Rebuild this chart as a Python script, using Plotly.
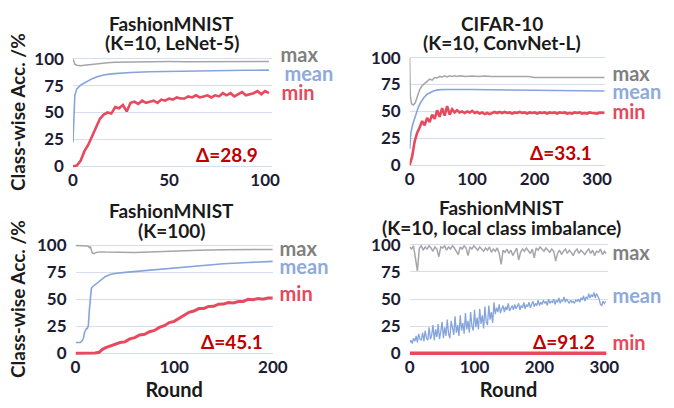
import plotly.graph_objects as go

# ---------------- Panel 1: FashionMNIST (K=10, LeNet-5) ----------------
p1_max_x = [0, 0.5, 1, 2, 4, 6, 8, 10, 14, 18, 22, 30, 40, 50, 60, 70, 80, 90, 102]
p1_max_y = [100, 97, 95, 94, 93.5, 94, 94.5, 95, 95.8, 96.3, 96.7, 97, 97.2, 97.4, 97.3, 97.5, 97.4, 97.5, 97.5]
p1_mean_x = [0, 0.5, 1, 2, 3, 4, 6, 8, 10, 13, 16, 20, 25, 30, 40, 50, 60, 70, 80, 90, 102]
p1_mean_y = [22, 50, 66, 72, 74, 75.5, 77.5, 79.5, 81.5, 83.5, 85, 86, 86.7, 87.2, 88, 88.4, 88.7, 89, 89.1, 89.3, 89.5]
p1_min_x = list(range(0, 103, 2))
p1_min_y = [0, 0.5, 5, 14, 20, 28, 37, 44, 48, 50, 49, 55, 54, 57, 51, 59, 60, 58, 61, 59,
            60, 61, 59, 62, 61, 63, 62, 64, 63, 63, 65, 64, 66, 64, 65, 66, 64, 66, 65, 68,
            66, 68, 65, 67, 69, 66, 67, 68, 70, 67, 70, 68]

# ---------------- Panel 2: CIFAR-10 (K=10, ConvNet-L) ----------------
p2_max_x = [0, 1, 3, 6, 9, 12, 16, 20, 24, 28, 32, 36, 40, 44, 48, 52, 56, 60, 64, 68, 72, 76, 80,
            90, 100, 110, 120, 130, 140, 150, 160, 170, 180, 190, 200, 210, 220, 230, 240, 260, 280, 300, 312]
p2_max_y = [100, 65, 57, 56, 58, 64, 70, 74, 76, 78, 80, 79, 81.5, 81, 82.5, 82, 83, 82, 83, 82.5, 83, 82.5, 83,
            82.5, 83, 82.5, 83, 82.5, 82.5, 82, 82.5, 82, 82, 82.5, 81.5, 81.5, 81.5, 82, 81.5, 81.5, 81.5, 81.5, 81.5]
p2_mean_x = [0, 2, 5, 10, 14, 18, 23, 28, 33, 38, 45, 55, 100, 150, 200, 250, 312]
p2_mean_y = [15, 30, 38, 48, 54, 58.5, 63, 66, 67.8, 69, 70, 70.3, 70.3, 70, 69.5, 69.2, 69]
p2_min_x = list(range(0, 313, 4))
p2_min_y = [0, 8, 22, 30, 35, 41, 37, 44, 40, 47, 43, 51, 45, 53, 46, 55, 47, 52, 49, 51,
            49, 50, 48.5, 50, 49, 50.5, 48.5, 49.5, 48, 49, 47.5, 48.5, 47.5, 48.5, 49.5, 48.5, 49.5, 48.5, 49.5, 48.5,
            49, 48, 49, 48.5, 49.5, 48.5, 49, 48, 49, 48.5, 49, 48, 49, 48.5, 49, 48, 49, 48.5, 49, 48,
            49, 48.5, 49, 48, 48.5, 48, 49, 48.5, 49, 48, 48.5, 48, 49, 48.5, 48.5, 48, 49, 48.5, 48.5]

# ---------------- Panel 3: FashionMNIST (K=100) ----------------
p3_max_x = [0, 10, 12, 13, 14, 15, 16, 17, 18, 19, 21, 25, 30, 40, 50, 60, 75, 100, 125, 150, 175, 200]
p3_max_y = [100, 100, 99.5, 99, 98, 99, 96, 93, 92.5, 92.5, 93.5, 94, 93.8, 93.5, 93.2, 93.5, 94, 95, 95.5, 96, 96.4, 96.3]
p3_mean_x = [0, 5, 7, 8, 9, 10, 11, 12, 13, 14, 15, 16, 17, 19, 22, 26, 30, 35, 40, 50, 60, 75, 100, 125, 150, 175, 200]
p3_mean_y = [10, 10, 12, 14, 19, 22, 23, 23, 26, 40, 55, 60, 61.5, 63, 65, 68.5, 71, 73, 74, 75, 75.8, 77.2, 79.5, 81.5, 83, 84.2, 85.2]
p3_min_x = [0, 5, 10, 15, 20, 24, 27, 30, 35, 40, 45, 50, 55, 60, 65, 70, 75, 80, 85, 90, 95, 100,
            105, 110, 115, 120, 125, 130, 135, 140, 145, 150, 155, 160, 165, 170, 175, 180, 185, 190, 195, 200]
p3_min_y = [0, 0, 0, 0, 0.3, 1, 3.5, 5, 6.5, 7.8, 10, 10.6, 13.4, 14.6, 17, 17.6, 20, 21.2, 24, 25.6, 28.5, 29.6,
            32.5, 34.6, 38, 39.2, 41.5, 41.6, 43.5, 43.6, 45.5, 45.6, 47, 46.6, 48, 48.1, 50, 49.6, 50.8, 50.2, 51.3, 51.2]

# ---------------- Panel 4: FashionMNIST (K=10, local class imbalance) ----------------
p4_max_x = list(range(0, 304, 3))
p4_max_y = [98, 96, 99, 88, 76, 97, 99, 95, 98, 96, 99, 97, 94, 98, 96, 89, 98, 97, 99, 95,
            98, 96, 99, 97, 94, 91, 98, 96, 99, 97, 90, 98, 96, 99, 97, 95, 98, 96, 94, 97,
            95, 98, 93, 96, 94, 97, 92, 82, 95, 93, 96, 92, 95, 90, 94, 97, 86, 93, 96, 94,
            97, 95, 92, 96, 88, 97, 95, 98, 96, 94, 97, 95, 93, 96, 94, 85, 92, 95, 91, 94,
            96, 92, 95, 93, 90, 94, 96, 92, 95, 93, 91, 94, 96, 92, 95, 90, 94, 93, 96, 91,
            94, 92]
p4_mean_x = list(range(0, 303, 2))
p4_mean_y = [10, 12, 9, 14, 11, 16, 10, 18, 13, 12, 19,
             11, 21, 14, 12, 24, 13, 17, 26, 12, 22,
             15, 27, 13, 20, 29, 14, 24, 16, 31, 18,
             14, 30, 22, 17, 34, 19, 26, 16, 35, 21,
             28, 18, 37, 22, 30, 19, 38, 25, 21, 40,
             24, 33, 22, 41, 27, 35, 23, 43, 29, 26,
             44, 31, 38, 28, 47, 36, 42, 38, 45, 37,
             41, 44, 38, 43, 40, 46, 39, 42, 44, 40,
             45, 41, 43, 46, 40, 44, 42, 47, 41, 45,
             43, 47, 42, 45, 48, 43, 46, 44, 49, 44,
             47, 45, 49, 46, 48, 44, 50, 46, 48, 47,
             50, 45, 49, 47, 51, 46, 49, 48, 52, 47,
             50, 48, 46, 49, 47, 48, 46, 49, 48, 50,
             47, 51, 49, 53, 48, 52, 50, 55, 51, 54,
             52, 56, 51, 55, 53, 50, 45, 44, 48, 46, 48]
p4_min_x = [0, 303]
p4_min_y = [0, 0]

title_line1 = ["FashionMNIST", "CIFAR-10", "FashionMNIST", "FashionMNIST"]
title_line2 = ["(K=10, LeNet-5)", "(K=10, ConvNet-L)", "(K=100)", "(K=10, local class imbalance)"]
deltas = ["Δ=28.9", "Δ=33.1", "Δ=45.1", "Δ=91.2"]
series_names = ["max", "mean", "min"]
x_ranges = [[0, 103.5], [0, 312], [0, 200], [0, 305]]
x_ticks = [[0, 50, 100], [0, 100, 200, 300], [0, 100, 200], [0, 100, 200, 300]]
y_ticks = [0, 25, 50, 75, 100]
Y_RANGE = [-1.5, 101.5]

W, H = 674, 408
FONT = "Lato"
C_MAX, C_MEAN, C_MIN = "#a6a6a6", "#86a4dc", "#e8495e"
T_MAX, T_MEAN, T_MIN = "#808080", "#8eaadb", "#e6495c"
TICKC = "#1c1c34"
DCOL = "#c00000"

# plot-area boxes in pixels: (left, right, top, bottom)
boxes = [(70, 275, 50.3, 165.7), (417, 618, 49.0, 164.7),
         (72.7, 276, 245.0, 361.0), (417, 621, 244.3, 361.0)]

fig = go.Figure()
series = [
    (p1_max_x, p1_max_y, p1_mean_x, p1_mean_y, p1_min_x, p1_min_y),
    (p2_max_x, p2_max_y, p2_mean_x, p2_mean_y, p2_min_x, p2_min_y),
    (p3_max_x, p3_max_y, p3_mean_x, p3_mean_y, p3_min_x, p3_min_y),
    (p4_max_x, p4_max_y, p4_mean_x, p4_mean_y, p4_min_x, p4_min_y),
]
min_widths = [2.6, 2.6, 3, 3.5]
mean_widths = [1.6, 1.6, 1.6, 1.3]
for i, (mx, my, ex, ey, nx, ny) in enumerate(series):
    xa = "x" if i == 0 else f"x{i+1}"
    ya = "y" if i == 0 else f"y{i+1}"
    fig.add_trace(go.Scatter(x=mx, y=my, mode="lines", line=dict(color=C_MAX, width=1.5),
                             xaxis=xa, yaxis=ya, showlegend=False, hoverinfo="skip"))
    fig.add_trace(go.Scatter(x=ex, y=ey, mode="lines", line=dict(color=C_MEAN, width=mean_widths[i]),
                             xaxis=xa, yaxis=ya, showlegend=False, hoverinfo="skip"))
    fig.add_trace(go.Scatter(x=nx, y=ny, mode="lines", line=dict(color=C_MIN, width=min_widths[i]),
                             xaxis=xa, yaxis=ya, showlegend=False, hoverinfo="skip"))

# series-name labels: drawn as text on a full-page overlay axis (pixel units),
# so labels near the right page edge are cut off as in the reference
label_pos = [
    [(284, 50), (288, 70), (285, 90)],
    [(626, 70), (626, 89), (626, 110)],
    [(283, 252), (283, 271), (283, 299)],
    [(626, 257), (626, 302), (626, 351)],
]
for pos in label_pos:
    for (px, py), name, col in zip(pos, series_names, [T_MAX, T_MEAN, T_MIN]):
        fig.add_trace(go.Scatter(x=[px], y=[py], mode="text", text=["<b>" + name + "</b>"],
                                 textposition="middle right", cliponaxis=False,
                                 textfont=dict(family=FONT, size=20, color=col),
                                 xaxis="x5", yaxis="y5", showlegend=False, hoverinfo="skip"))

layout = dict(width=W, height=H, margin=dict(l=0, r=0, t=0, b=0),
              paper_bgcolor="white", plot_bgcolor="rgba(0,0,0,0)", showlegend=False)
for i, (l, r, t, b) in enumerate(boxes):
    sfx = "" if i == 0 else str(i + 1)
    layout["xaxis" + sfx] = dict(domain=[l / W, r / W], range=x_ranges[i], tickvals=x_ticks[i],
                                 showgrid=False, zeroline=False, showline=False,
                                 anchor="y" + sfx,
                                 tickfont=dict(family=FONT, size=17, color=TICKC, weight="bold"),
                                 title=dict(text="<b>Round</b>" if i >= 2 else "",
                                            font=dict(family=FONT, size=20, color="#1a1a1a"),
                                            standoff=6))
    layout["yaxis" + sfx] = dict(domain=[1 - b / H, 1 - t / H], range=Y_RANGE, tickvals=y_ticks,
                                 showgrid=True, gridcolor="#d6ddf0", gridwidth=1,
                                 zeroline=False, showline=False, anchor="x" + sfx,
                                 ticklabelstandoff=8,
                                 tickfont=dict(family=FONT, size=17, color=TICKC, weight="bold"))
layout["xaxis5"] = dict(domain=[0, 1], range=[0, W], visible=False, anchor="y5", fixedrange=True)
layout["yaxis5"] = dict(domain=[0, 1], range=[H, 0], visible=False, anchor="x5", fixedrange=True)
fig.update_layout(**layout)

ann = []
title_pos = [((172, 15), (172, 35)), ((512, 15), (512, 35)),
             ((172, 210), (172, 231)), ((512, 207), (512, 228))]
for i, (p1, p2) in enumerate(title_pos):
    for (cx, cy), txt in zip((p1, p2), (title_line1[i], title_line2[i])):
        ann.append(dict(text="<b>" + txt + "</b>", x=cx / W, y=1 - cy / H, xref="paper", yref="paper",
                        showarrow=False, xanchor="center", yanchor="middle",
                        font=dict(family=FONT, size=19, color="#1a1a1a")))

delta_pos = [(229, 152), (573, 150), (234, 347), (576, 347)]
for i, (cx, cy) in enumerate(delta_pos):
    ann.append(dict(text="<b>" + deltas[i] + "</b>", x=cx / W, y=1 - cy / H, xref="paper", yref="paper",
                    showarrow=False, xanchor="center", yanchor="middle",
                    font=dict(family=FONT, size=19, color=DCOL)))

for cy in [108, 303]:
    ann.append(dict(text="<b>Class-wise Acc. /%</b>", x=13 / W, y=1 - cy / H, xref="paper", yref="paper",
                    showarrow=False, textangle=-90, xanchor="center", yanchor="middle",
                    font=dict(family=FONT, size=19, color="#1a1a1a")))
fig.update_layout(annotations=ann)
fig.write_html("out.html")
